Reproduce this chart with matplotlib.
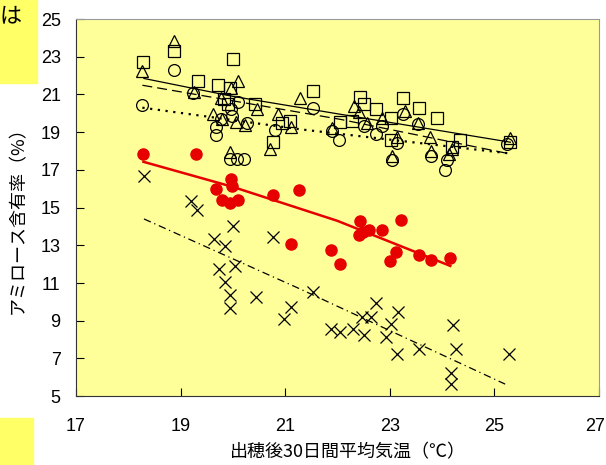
import numpy as np
import matplotlib.pyplot as plt
import matplotlib.transforms as mtransforms
from matplotlib.patches import Rectangle

plt.rcParams['font.family'] = ['Noto Sans CJK JP', 'DejaVu Sans']

# 四角（実線）
sq_x = [18.29, 18.87, 20.0, 19.34, 19.72, 19.95, 19.83, 19.9, 20.42, 21.1, 20.95, 20.77,
        21.53, 22.06, 22.44, 22.51, 22.73, 23.26, 23.56, 23.9, 23.02, 22.28, 23.02, 24.34,
        24.2, 25.3]
sq_y = [22.7, 23.31, 22.9, 21.72, 21.49, 21.37, 20.74, 20.5, 20.48, 19.6, 19.5, 18.47,
        21.2, 19.54, 20.89, 20.48, 20.21, 20.83, 20.3, 19.77, 19.77, 19.59, 18.6, 18.6,
        18.2, 18.5]
sq_fit_x = [18.3, 20.0, 22.06, 25.31]
sq_fit_y = [21.85, 20.9, 19.95, 18.47]

# 三角（破線）
tri_x = [18.26, 18.87, 19.25, 20.1, 19.97, 19.77, 19.62, 19.8, 20.06, 20.23, 20.46, 20.87,
         21.12, 20.71, 19.95, 21.28, 21.9, 22.32, 22.41, 22.57, 22.86, 23.3, 23.54, 23.14,
         23.77, 23.05, 23.79, 24.13, 24.2, 25.31]
tri_y = [22.25, 23.85, 21.13, 21.72, 21.37, 20.83, 19.95, 19.72, 19.54, 19.36, 20.25, 19.95,
         19.29, 18.12, 17.94, 20.83, 19.24, 20.39, 20.07, 19.5, 19.77, 20.12, 19.5, 18.76,
         18.76, 17.73, 18.0, 17.82, 18.09, 18.7]
tri_fit_x = [18.27, 22.06, 25.3]
tri_fit_y = [21.49, 19.68, 17.85]

# 丸（点線）
cir_x = [18.27, 18.87, 19.23, 19.67, 19.67, 19.77, 19.97, 20.09, 19.99, 20.27, 20.81, 21.53,
         19.95, 20.08, 20.21, 21.9, 22.03, 22.51, 22.73, 22.86, 23.26, 23.54, 23.14, 23.05,
         23.79, 24.1, 24.05, 25.25]
cir_y = [20.43, 22.3, 21.1, 19.29, 18.83, 19.68, 20.21, 20.6, 19.86, 19.47, 19.11, 20.3,
         17.59, 17.59, 17.59, 19.06, 18.6, 19.33, 18.88, 19.33, 19.95, 19.42, 18.44, 17.55,
         17.73, 17.55, 17.0, 18.35]
cir_fit_x = [18.27, 21.3, 25.31]
cir_fit_y = [20.3, 19.15, 17.87]

# 赤丸（赤実線）
red_x = [18.29, 19.29, 19.96, 19.99, 19.67, 19.8, 19.94, 20.09, 20.77, 21.27, 21.11, 21.87,
         22.05, 22.44, 22.6, 22.41, 22.5, 22.86, 23.22, 23.13, 23.0, 23.56, 23.79, 24.15]
red_y = [17.87, 17.87, 16.53, 16.14, 16.0, 15.43, 15.25, 15.39, 15.69, 15.92, 13.07, 12.73,
         12.02, 14.27, 13.79, 13.56, 13.7, 13.79, 14.32, 12.62, 12.18, 12.5, 12.2, 12.32]
red_fit_x = [18.29, 20.0, 22.0, 24.16]
red_fit_y = [17.43, 16.1, 14.3, 11.91]

# ×（一点鎖線）
x_x = [18.3, 19.2, 19.31, 20.01, 19.64, 19.85, 19.74, 20.04, 19.85, 19.94, 19.95, 20.44,
       20.76, 21.12, 20.97, 21.54, 21.88, 22.05, 22.3, 22.51, 22.48, 22.64, 22.73, 23.03,
       22.94, 23.16, 23.14, 23.56, 24.21, 24.27, 24.18, 24.18, 25.28]
x_y = [16.67, 15.34, 14.86, 14.04, 13.33, 12.94, 11.74, 11.88, 11.03, 10.37, 9.66, 10.28,
       13.44, 9.75, 9.08, 10.55, 8.55, 8.42, 8.55, 8.24, 9.22, 9.19, 9.96, 8.83,
       8.16, 9.49, 7.23, 7.48, 8.78, 7.48, 6.24, 5.64, 7.23]
x_fit_x = [18.3, 21.3, 25.21]
x_fit_y = [14.4, 10.67, 5.64]

fig = plt.figure(figsize=(6.06, 4.65), dpi=100)
ax = fig.add_axes([0.1254, 0.148, 0.8626, 0.811])
ax.set_facecolor('#ffff99')

ax.plot(sq_fit_x, sq_fit_y, color='black', lw=0.9, ls='-')
ax.plot(tri_fit_x, tri_fit_y, color='black', lw=0.9, ls=(0, (8, 4)))
ax.plot(cir_fit_x, cir_fit_y, color='black', lw=1.6, ls=(0, (1, 2.5)))
ax.plot(x_fit_x, x_fit_y, color='black', lw=0.9, ls=(0, (6, 3, 1, 3)))
ax.plot(red_fit_x, red_fit_y, color='#e60000', lw=1.8)

ax.plot(sq_x, sq_y, 's', ms=8.5, mfc='none', mec='black', mew=0.9)
ax.plot(tri_x, tri_y, '^', ms=9, mfc='none', mec='black', mew=0.9)
ax.plot(cir_x, cir_y, 'o', ms=8.5, mfc='none', mec='black', mew=0.9)
ax.plot(red_x, red_y, 'o', ms=8, color='#e60000')
ax.plot(x_x, x_y, 'x', ms=9, color='black', mew=0.9)

ax.set_xlim(17, 27)
ax.set_ylim(5, 25)
ax.set_xticks(np.arange(17, 28, 2))
ax.set_yticks(np.arange(5, 26, 2))
ax.tick_params(direction='in', length=6, width=0.8, labelsize=13)
ax.tick_params(axis='y', pad=11)
ax.tick_params(axis='x', pad=16)
for lab in ax.get_xticklabels() + ax.get_yticklabels():
    lab.set_family(['Liberation Sans', 'DejaVu Sans'])
# 右端の「27」は少し左へ寄せる
last = ax.get_xticklabels()[-1]
last.set_transform(last.get_transform() +
                   mtransforms.ScaledTranslation(-4 / 100, 0, fig.dpi_scale_trans))
for s in ['top', 'right']:
    ax.spines[s].set_color('#999999')
for s in ['left', 'bottom']:
    ax.spines[s].set_color('#333333')

ax.set_xlabel('出穂後30日間平均気温（℃）', fontsize=13)
ax.set_ylabel('アミロース含有率（%）', fontsize=13)
ax.xaxis.set_label_coords(0.52, -0.125)
ax.yaxis.set_label_coords(-0.093, 0.48)

# 左上・左下の黄色い枠
fig.patches.append(Rectangle((0, 1 - 83 / 465), 37 / 606, 83 / 465,
                             transform=fig.transFigure, color='#ffff66', zorder=0))
fig.patches.append(Rectangle((0, 0), 33 / 606, 47 / 465,
                             transform=fig.transFigure, color='#ffff66', zorder=0))
fig.text(0.0, 0.99, 'は', fontsize=16, va='top', ha='left')

fig.savefig('out.png', dpi=100)
